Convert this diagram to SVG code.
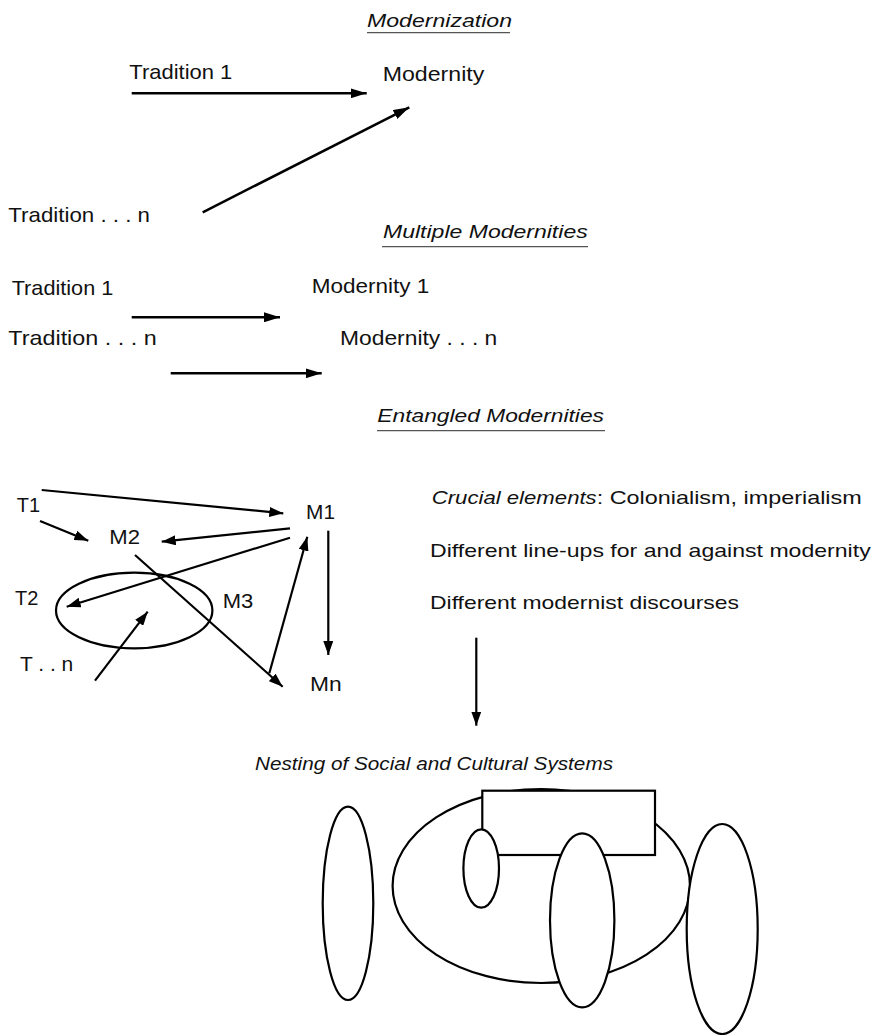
<svg xmlns="http://www.w3.org/2000/svg" width="877" height="1035" viewBox="0 0 877 1035">
<style>
text{font-family:"Liberation Sans",Arial,sans-serif;fill:#111}
.r{font-size:21px}
.h{font-size:19px;font-style:italic}
.s{font-size:20px}
.t{font-size:19px}
.ul{stroke:#555;stroke-width:1.2}
.c{stroke:#000;stroke-width:2.5;fill:none}
.c2{stroke:#000;stroke-width:2.2;fill:none}
.sh{stroke:#000;stroke-width:2.2;fill:#fff}
</style>
<defs>
<marker id="ah" markerUnits="userSpaceOnUse" markerWidth="16" markerHeight="10" refX="16" refY="5" orient="auto">
<path d="M0,0 L16,5 L0,10 z" fill="#000"/>
</marker>
<marker id="ah2" markerUnits="userSpaceOnUse" markerWidth="14" markerHeight="10" refX="14" refY="5" orient="auto">
<path d="M0,0 L14,5 L0,10 z" fill="#000"/>
</marker>
</defs>
<rect width="877" height="1035" fill="#fff"/>

<g id="headings">
<text class="h" x="367" y="26.5" textLength="145" lengthAdjust="spacingAndGlyphs">Modernization</text>
<line class="ul" x1="367" y1="32.7" x2="510" y2="32.7"/>
<text class="h" x="383" y="238.3" textLength="204.7" lengthAdjust="spacingAndGlyphs">Multiple Modernities</text>
<line class="ul" x1="382" y1="246.7" x2="588" y2="246.7"/>
<text class="h" x="377.3" y="421.7" textLength="226.7" lengthAdjust="spacingAndGlyphs">Entangled Modernities</text>
<line class="ul" x1="377" y1="430.7" x2="605" y2="430.7"/>
<text class="h" x="255" y="769.5" textLength="358" lengthAdjust="spacingAndGlyphs">Nesting of Social and Cultural Systems</text>
</g>

<g id="modernization">
<g id="mz-tradition1"><text class="r" x="129.3" y="79" textLength="103" lengthAdjust="spacingAndGlyphs">Tradition 1</text></g>
<g id="mz-modernity"><text class="r" x="382.7" y="81" textLength="101.6" lengthAdjust="spacingAndGlyphs">Modernity</text></g>
<g id="mz-traditionn"><text class="r" x="8.3" y="221.7" textLength="141.7" lengthAdjust="spacingAndGlyphs">Tradition . . . n</text></g>
</g>

<g id="multiple">
<g id="mm-tradition1"><text class="r" x="11.7" y="295" textLength="101.6" lengthAdjust="spacingAndGlyphs">Tradition 1</text></g>
<g id="mm-traditionn"><text class="r" x="8.3" y="345" textLength="148.4" lengthAdjust="spacingAndGlyphs">Tradition . . .  n</text></g>
<g id="mm-modernity1"><text class="r" x="311.7" y="292.7" textLength="117.6" lengthAdjust="spacingAndGlyphs">Modernity 1</text></g>
<g id="mm-modernityn"><text class="r" x="340" y="345" textLength="157.3" lengthAdjust="spacingAndGlyphs">Modernity . . . n</text></g>
</g>

<g id="entangled">
<g id="T1"><text class="s" x="16.7" y="511.7" textLength="23.3" lengthAdjust="spacingAndGlyphs">T1</text></g>
<g id="M1"><text class="s" x="306" y="519" textLength="29" lengthAdjust="spacingAndGlyphs">M1</text></g>
<g id="M2"><text class="s" x="109.3" y="544.3" textLength="30.7" lengthAdjust="spacingAndGlyphs">M2</text></g>
<g id="T2"><text class="s" x="15" y="605" textLength="23.3" lengthAdjust="spacingAndGlyphs">T2</text></g>
<g id="M3"><text class="s" x="222.7" y="607.7" textLength="30.6" lengthAdjust="spacingAndGlyphs">M3</text></g>
<g id="Tn"><text class="s" x="20" y="671" textLength="53.3" lengthAdjust="spacingAndGlyphs">T . . n</text></g>
<g id="Mn"><text class="s" x="310" y="691" textLength="31.7" lengthAdjust="spacingAndGlyphs">Mn</text></g>
<g id="ellipse-M3"><ellipse class="c2" cx="134.2" cy="610.5" rx="78.2" ry="37.8"/></g>
</g>

<g id="elements">
<text class="t" font-style="italic" x="431.7" y="504.3" textLength="165" lengthAdjust="spacingAndGlyphs">Crucial elements</text>
<text class="t" x="596.7" y="504.3" textLength="265" lengthAdjust="spacingAndGlyphs">: Colonialism, imperialism</text>
<text class="t" x="430" y="557.3" textLength="440.7" lengthAdjust="spacingAndGlyphs">Different line-ups for and against modernity</text>
<text class="t" x="430" y="609" textLength="309" lengthAdjust="spacingAndGlyphs">Different modernist discourses</text>
</g>

<g id="connectors">
<line class="c" x1="131.7" y1="93.3" x2="366.7" y2="93.3" marker-end="url(#ah)"/>
<line class="c" x1="202.7" y1="212.3" x2="409.3" y2="107.3" marker-end="url(#ah)"/>
<line class="c" x1="131.7" y1="317.3" x2="280" y2="317.3" marker-end="url(#ah)"/>
<line class="c" x1="170.7" y1="373.3" x2="321.7" y2="373.3" marker-end="url(#ah)"/>
<line class="c2" x1="41.7" y1="490" x2="283.3" y2="513.3" marker-end="url(#ah2)"/>
<line class="c2" x1="40" y1="521" x2="88.3" y2="540.7" marker-end="url(#ah2)"/>
<line class="c2" x1="290" y1="528.3" x2="161.7" y2="541.7" marker-end="url(#ah2)"/>
<line class="c2" x1="290" y1="537.7" x2="66.7" y2="606.7" marker-end="url(#ah2)"/>
<line class="c2" x1="135" y1="555" x2="282.7" y2="686.7" marker-end="url(#ah2)"/>
<line class="c2" x1="269.3" y1="673.3" x2="307.3" y2="536.7" marker-end="url(#ah2)"/>
<line class="c2" x1="328.3" y1="530.7" x2="328.3" y2="655" marker-end="url(#ah2)"/>
<line class="c2" x1="95" y1="680.7" x2="147.7" y2="611.7" marker-end="url(#ah2)"/>
<line class="c2" x1="476.3" y1="637.7" x2="476.3" y2="725.7" marker-end="url(#ah2)"/>
</g>

<g id="nesting">
<g id="sys-left"><ellipse class="sh" cx="348" cy="903.3" rx="25.3" ry="96.7"/></g>
<g id="sys-big"><ellipse class="sh" cx="541.3" cy="886" rx="148.7" ry="97"/></g>
<g id="sys-rect"><rect class="sh" x="482.3" y="790.7" width="172.7" height="64.3"/></g>
<g id="sys-small"><ellipse class="sh" cx="481.2" cy="868.5" rx="17.8" ry="39.2"/></g>
<g id="sys-middle"><ellipse class="sh" cx="582.2" cy="920.3" rx="32.2" ry="87"/></g>
<g id="sys-right"><ellipse class="sh" cx="722.2" cy="929" rx="35.5" ry="105"/></g>
</g>
</svg>
